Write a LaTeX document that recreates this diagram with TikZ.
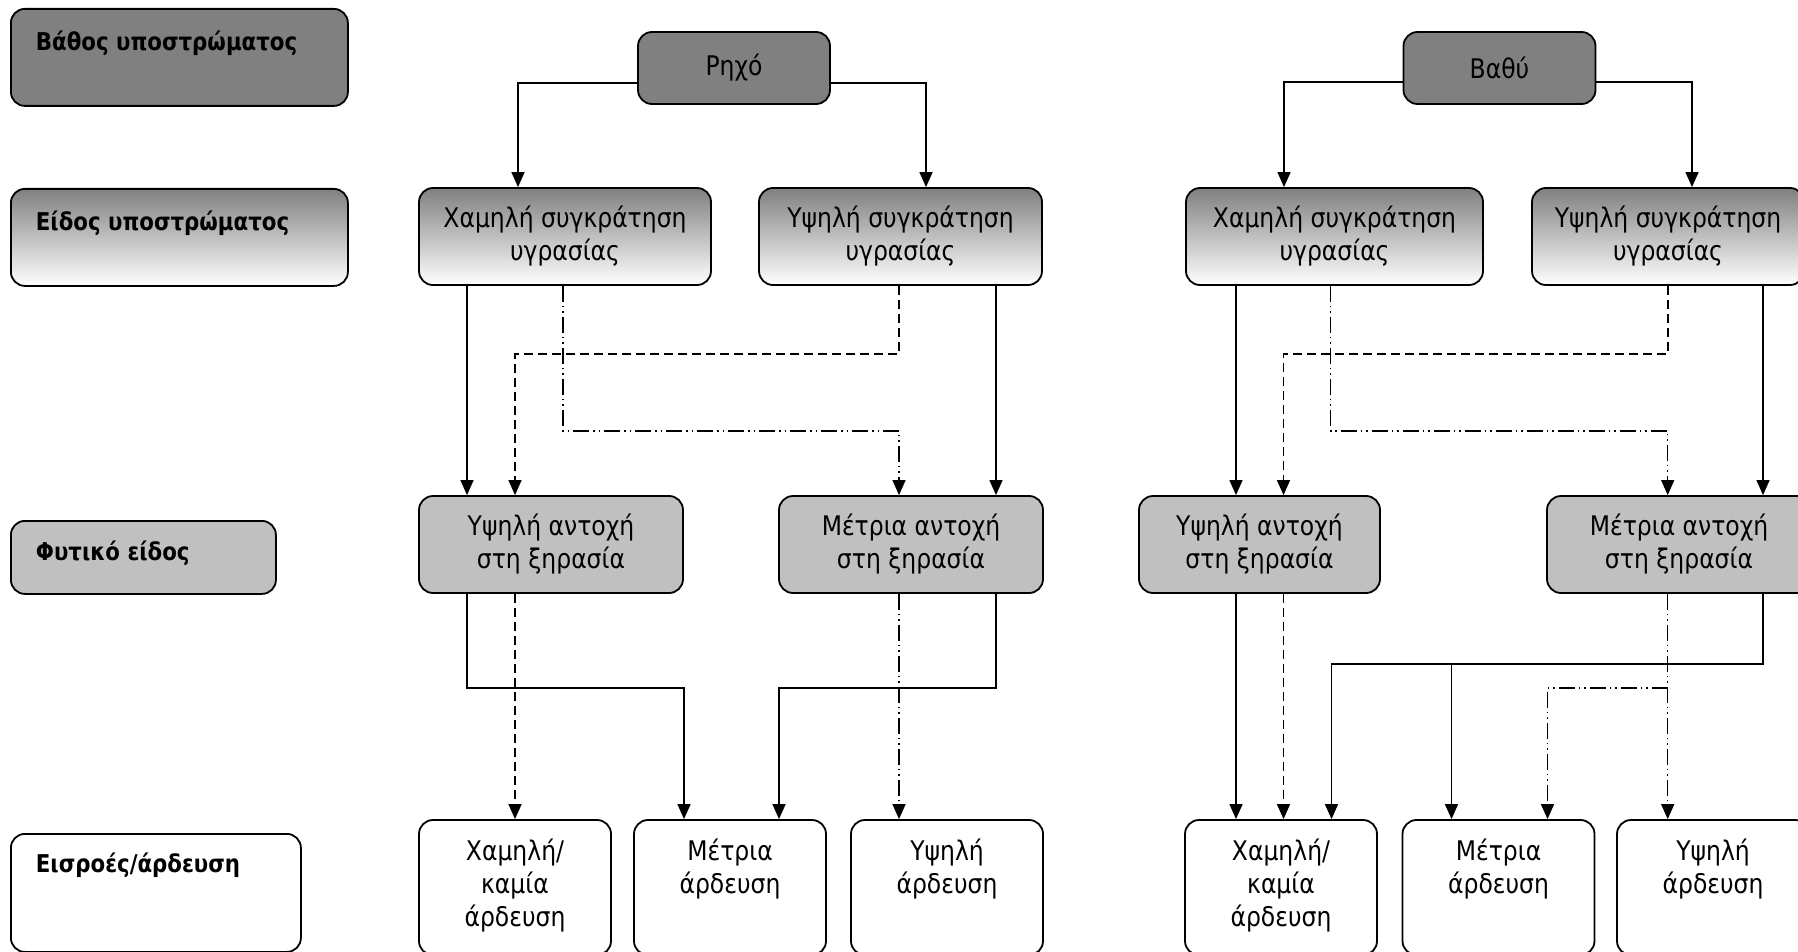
\documentclass[tikz,border=0pt]{standalone}
\usepackage{fontspec}
\setmainfont{DejaVu Sans}[FakeStretch=0.87]
\usepackage{xcolor}
\usetikzlibrary{arrows.meta}
\definecolor{boxdark}{HTML}{808080}
\definecolor{boxlight}{HTML}{C0C0C0}

\tikzset{
  base/.style={draw, line width=1.8pt, rounded corners=14pt, inner sep=0pt,
    font=\fontsize{27}{33}\selectfont},
  depthbox/.style={base, fill=boxdark, minimum width=192pt, minimum height=72pt},
  typebox/.style={base, top color=boxdark, bottom color=white, minimum height=97pt, align=center},
  plantbox/.style={base, fill=boxlight, minimum height=97pt, align=center},
  inputbox/.style={base, fill=white, minimum width=192pt, minimum height=135pt},
  rowlabel/.style={base, anchor=north west, inner xsep=25pt,
    font=\bfseries\fontsize{24.5}{28}\selectfont},
  arr/.style={line width=1.4pt, -{Triangle[length=15pt,width=13pt]}},
  dsh/.style={dash pattern=on 9pt off 5pt},
  ddot/.style={dash pattern=on 16pt off 4pt on 1.5pt off 4pt on 1.5pt off 4pt},
}

\begin{document}
\begin{tikzpicture}[x=1pt, y=-1pt]
  \useasboundingbox (0,0) rectangle (1798,952);
  \clip (0,0) rectangle (1798,952);

  % row labels
  \node[rowlabel, fill=boxdark] (depthlbl) at (10,8)
    {\parbox[c][97pt][t]{287pt}{\rule{0pt}{42pt}Βάθος υποστρώματος}};
  \node[rowlabel, top color=boxdark, bottom color=white] (typelbl) at (10,188)
    {\parbox[c][97pt][t]{287pt}{\rule{0pt}{42pt}Είδος υποστρώματος}};
  \node[rowlabel, fill=boxlight] (plantlbl) at (10,520)
    {\parbox[c][73pt][t]{215pt}{\rule{0pt}{40pt}Φυτικό είδος}};
  \node[rowlabel, fill=white] (inputlbl) at (10,833)
    {\parbox[c][118pt][t]{240pt}{\rule{0pt}{39pt}Εισροές/άρδευση}};

  % depth
  \node[depthbox] (shallow) at (734,68) {Ρηχό};
  \node[depthbox] (deep) at (1499.5,68) {Βαθύ};

  % substrate type
  \node[typebox, minimum width=292pt] (shLowRet) at (565,236.5) {Χαμηλή συγκράτηση\\υγρασίας};
  \node[typebox, minimum width=283pt] (shHighRet) at (900.5,236.5) {Υψηλή συγκράτηση\\υγρασίας};
  \node[typebox, minimum width=297pt] (dpLowRet) at (1334.5,236.5) {Χαμηλή συγκράτηση\\υγρασίας};
  \node[typebox, minimum width=272pt] (dpHighRet) at (1668,236.5) {Υψηλή συγκράτηση\\υγρασίας};

  % plant species
  \node[plantbox, minimum width=264pt] (shHighTol) at (551,544.5) {Υψηλή αντοχή\\στη ξηρασία};
  \node[plantbox, minimum width=264pt] (shModTol) at (911,544.5) {Μέτρια αντοχή\\στη ξηρασία};
  \node[plantbox, minimum width=241pt] (dpHighTol) at (1259.5,544.5) {Υψηλή αντοχή\\στη ξηρασία};
  \node[plantbox, minimum width=264pt] (dpModTol) at (1679,544.5) {Μέτρια αντοχή\\στη ξηρασία};

  % irrigation
  \node[inputbox] (shNoIrr) at (515,887.5)
    {\parbox[c][135pt][t]{180pt}{\centering\rule{0pt}{40pt}Χαμηλή/\\καμία\\άρδευση}};
  \node[inputbox] (shModIrr) at (730,887.5)
    {\parbox[c][135pt][t]{180pt}{\centering\rule{0pt}{40pt}Μέτρια\\άρδευση}};
  \node[inputbox] (shHighIrr) at (947,887.5)
    {\parbox[c][135pt][t]{180pt}{\centering\rule{0pt}{40pt}Υψηλή\\άρδευση}};
  \node[inputbox] (dpNoIrr) at (1281,887.5)
    {\parbox[c][135pt][t]{180pt}{\centering\rule{0pt}{40pt}Χαμηλή/\\καμία\\άρδευση}};
  \node[inputbox] (dpModIrr) at (1498.5,887.5)
    {\parbox[c][135pt][t]{180pt}{\centering\rule{0pt}{40pt}Μέτρια\\άρδευση}};
  \node[inputbox] (dpHighIrr) at (1713,887.5)
    {\parbox[c][135pt][t]{180pt}{\centering\rule{0pt}{40pt}Υψηλή\\άρδευση}};

  % depth -> substrate
  \draw[arr] ([yshift=-15pt]shallow.west) -| ([xshift=-47pt]shLowRet.north);
  \draw[arr] ([yshift=-15pt]shallow.east) -| ([xshift=25.5pt]shHighRet.north);
  \draw[arr] ([yshift=-14pt]deep.west) -| ([xshift=-50.5pt]dpLowRet.north);
  \draw[arr] ([yshift=-14pt]deep.east) -| ([xshift=24pt]dpHighRet.north);

  % substrate -> plant, shallow
  \draw[arr] ([xshift=-98pt]shLowRet.south) -- ([xshift=-98pt]shLowRet.south |- shHighTol.north);
  \draw[arr,ddot] ([xshift=-2pt]shLowRet.south) -- ++(0,145) -| ([xshift=-12pt]shModTol.north);
  \draw[arr,dsh] ([xshift=-1.5pt]shHighRet.south) -- ++(0,68) -| ([xshift=-36pt]shHighTol.north);
  \draw[arr] ([xshift=85pt]shModTol.north |- shHighRet.south) -- ([xshift=85pt]shModTol.north);

  % substrate -> plant, deep
  \draw[arr] ([xshift=-98.5pt]dpLowRet.south) -- ([xshift=-98.5pt]dpLowRet.south |- dpHighTol.north);
  \draw[arr,ddot] ([xshift=-4pt]dpLowRet.south) -- ++(0,145) -| ([xshift=-11.3pt]dpModTol.north);
  \draw[arr,dsh] (dpHighRet.south) -- ++(0,68) -| ([xshift=24pt]dpHighTol.north);
  \draw[arr] ([xshift=84pt]dpModTol.north |- dpHighRet.south) -- ([xshift=84pt]dpModTol.north);

  % plant -> irrigation, shallow
  \draw[arr] ([xshift=-84pt]shHighTol.south) -- ++(0,94) -| ([xshift=-46pt]shModIrr.north);
  \draw[arr,dsh] (shNoIrr.north |- shHighTol.south) -- (shNoIrr.north);
  \draw[arr] ([xshift=85pt]shModTol.south) -- ++(0,94) -| ([xshift=49pt]shModIrr.north);
  \draw[arr,ddot] ([xshift=-48pt]shHighIrr.north |- shModTol.south) -- ([xshift=-48pt]shHighIrr.north);

  % plant -> irrigation, deep
  \draw[arr] ([xshift=-23.5pt]dpHighTol.south) -- ([xshift=-23.5pt]dpHighTol.south |- dpNoIrr.north);
  \draw[arr,dsh] ([xshift=24pt]dpHighTol.south) -- ([xshift=24pt]dpHighTol.south |- dpNoIrr.north);
  \draw[arr] ([xshift=84pt]dpModTol.south) -- ++(0,70) -| ([xshift=50.5pt]dpNoIrr.north);
  \draw[arr] ([xshift=84pt]dpModTol.south) ++(0,70) -| ([xshift=-47pt]dpModIrr.north);
  \draw[arr,ddot] ([xshift=-11.3pt]dpModTol.south) -- ([xshift=-11.3pt]dpModTol.south |- dpHighIrr.north);
  \draw[arr,ddot] ([xshift=-11.3pt]dpModTol.south) ++(0,94) -| ([xshift=49pt]dpModIrr.north);
\end{tikzpicture}
\end{document}
